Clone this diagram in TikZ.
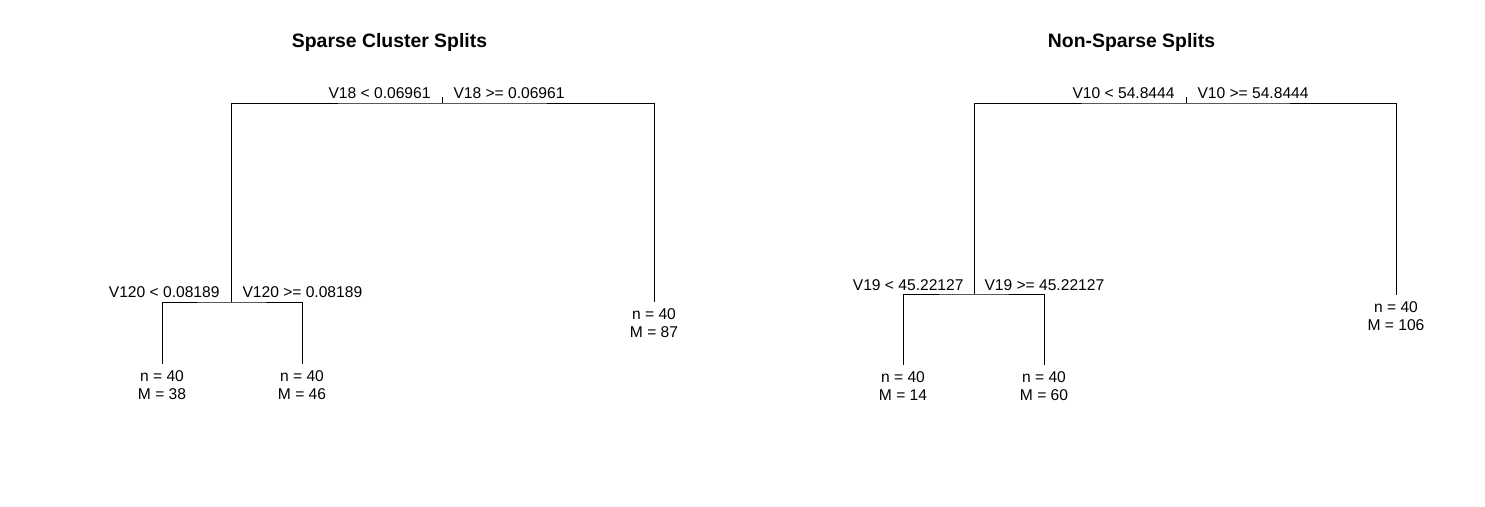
\documentclass[tikz,border=0pt]{standalone}
\usepackage{fontspec}
\setmainfont{Liberation Sans}
\tikzset{
  split/.style={inner sep=0pt, font=\fontsize{15.6}{18.5}\selectfont},
  leaf/.style={inner sep=0pt, anchor=north, align=center, yshift=-6pt,
    font=\fontsize{15.6}{18.5}\selectfont},
  plottitle/.style={inner sep=0pt, anchor=base, font=\fontsize{19.4}{22}\selectfont\bfseries}
}
\begin{document}
\begin{tikzpicture}[x=1pt, y=-1pt, line width=1pt]
  \useasboundingbox (0,0) rectangle (1485,506);
  % left tree
  \draw
    (389.5,47) node[plottitle] (t1){Sparse Cluster Splits}
    (442,103) coordinate (r1)
    (442,97) coordinate (r1tick)
    (231,302) coordinate (a)
    (654,302) coordinate (b)
    (162,364) coordinate (l1)
    (302,364) coordinate (l2);
  \node[split, anchor=base east] (r1l) at ([xshift=-11pt, yshift=5pt]r1) {V18 < 0.06961};
  \node[split, anchor=base west] (r1r) at ([xshift=11pt, yshift=5pt]r1) {V18 >= 0.06961};
  \node[split, anchor=base east] (al) at ([xshift=-11pt, yshift=5pt]a) {V120 < 0.08189};
  \node[split, anchor=base west] (ar) at ([xshift=11pt, yshift=5pt]a) {V120 >= 0.08189};
  \node[leaf] (l1t) at (l1) {n = 40\\M = 38};
  \node[leaf] (l2t) at (l2) {n = 40\\M = 46};
  \node[leaf] (bt) at (b) {n = 40\\M = 87};
  \begin{scope}[-]
    \draw (r1tick) -- (r1);
    \draw (a) |- (r1) -| (b);
    \draw (l1) |- (a) -| (l2);
  \end{scope}
  % right tree
  \draw
    (1131.5,47) node[plottitle] (t2){Non-Sparse Splits}
    (1186,103) coordinate (r2)
    (1186,97) coordinate (r2tick)
    (974,294) coordinate (c)
    (1396,295) coordinate (d)
    (903,365) coordinate (l3)
    (1044,365) coordinate (l4);
  \node[split, anchor=base east] (r2l) at ([xshift=-11pt, yshift=5pt]r2) {V10 < 54.8444};
  \node[split, anchor=base west] (r2r) at ([xshift=11pt, yshift=5pt]r2) {V10 >= 54.8444};
  \node[split, anchor=base east] (cl) at ([xshift=-10pt, yshift=4pt]c) {V19 < 45.22127};
  \node[split, anchor=base west] (cr) at ([xshift=10pt, yshift=4pt]c) {V19 >= 45.22127};
  \node[leaf] (l3t) at (l3) {n = 40\\M = 14};
  \node[leaf] (l4t) at (l4) {n = 40\\M = 60};
  \node[leaf] (dt) at (d) {n = 40\\M = 106};
  \begin{scope}[-]
    \draw (r2tick) -- (r2);
    \draw (c) |- (r2) -| (d);
    \draw (l3) |- (c) -| (l4);
  \end{scope}
\end{tikzpicture}
\end{document}
